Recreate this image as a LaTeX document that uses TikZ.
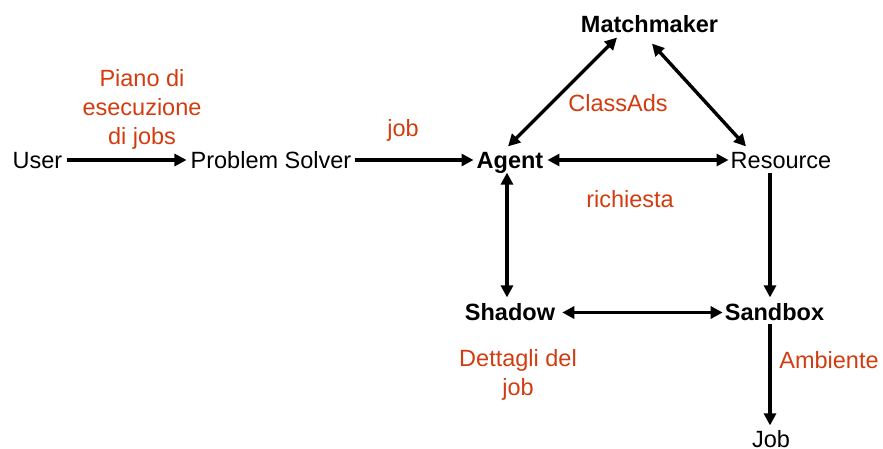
\documentclass[tikz,border=0pt]{standalone}
\usepackage{fontspec}
\setmainfont{Liberation Sans}
\usetikzlibrary{arrows.meta,calc}
\definecolor{labred}{RGB}{210,60,16}
\begin{document}
\begin{tikzpicture}[x=1pt,y=-1pt,
  every node/.style={inner sep=0pt, font=\fontsize{23.5}{29}\selectfont},
  ent/.style={text height=16.8pt,text depth=0pt},
  bent/.style={ent,font=\fontsize{23.5}{29}\selectfont\bfseries},
  lab/.style={text=labred, align=center},
  arr/.style={line width=3.4pt, -{Triangle[length=12pt,width=12pt]}},
  darr/.style={line width=3.4pt, {Triangle[length=12pt,width=12pt]}-{Triangle[length=12pt,width=12pt]}}]
\useasboundingbox (0,0) rectangle (883,448);
% entities
\node[ent] (user) at (37.5,160) {User};
\node[ent] (ps) at (271,160) {Problem Solver};
\node[bent] (agent) at (510,160) {Agent};
\node[ent] (res) at (781,160) {Resource};
\node[bent] (mm) at (649.5,24) {Matchmaker};
\node[bent] (shadow) at (510,312.5) {Shadow};
\node[bent] (sandbox) at (774.5,312.5) {Sandbox};
\node[ent] (job) at (771,439) {Job};
% labels
\node[lab,anchor=base] (lpiano) at (142,144.4) {Piano di\\esecuzione\\di jobs};
\node[lab,ent] (ljob) at (403,128) {job};
\node[lab,ent] (lclass) at (618,103.5) {ClassAds};
\node[lab,ent] (lrich) at (630,199.5) {richiesta};
\node[lab,anchor=base] (ldett) at (518,395.5) {Dettagli del\\job};
\node[lab,ent] (lamb) at (829,360) {Ambiente};
% connectors
\draw[arr, shorten <=4pt, shorten >=4pt] (user.east) -- (ps.west);
\draw[arr, shorten <=3pt, shorten >=3pt] (ps.east) -- (agent.west);
\draw[darr, shorten <=4pt, shorten >=2pt] (agent.east) -- (res.west);
\draw[darr] ($(agent.north)+(-2,-5)$) -- ($(mm.south)+(-32.5,5)$);
\draw[darr] ($(mm.south)+(2.5,11)$) -- ($(res.north)+(-35,-5)$);
\draw[darr] ($(agent.south)+(-3,4)$) -- ($(shadow.north)+(-3,-6.5)$);
\draw[arr] ($(res.south)+(-11,4)$) -- ($(sandbox.north)+(-4.5,-6.5)$);
\draw[darr, shorten <=7pt, shorten >=2pt] (shadow.east) -- (sandbox.west);
\draw[arr] ($(sandbox.south)+(-4.5,3)$) -- ($(job.north)+(-1,-5)$);
\end{tikzpicture}
\end{document}
